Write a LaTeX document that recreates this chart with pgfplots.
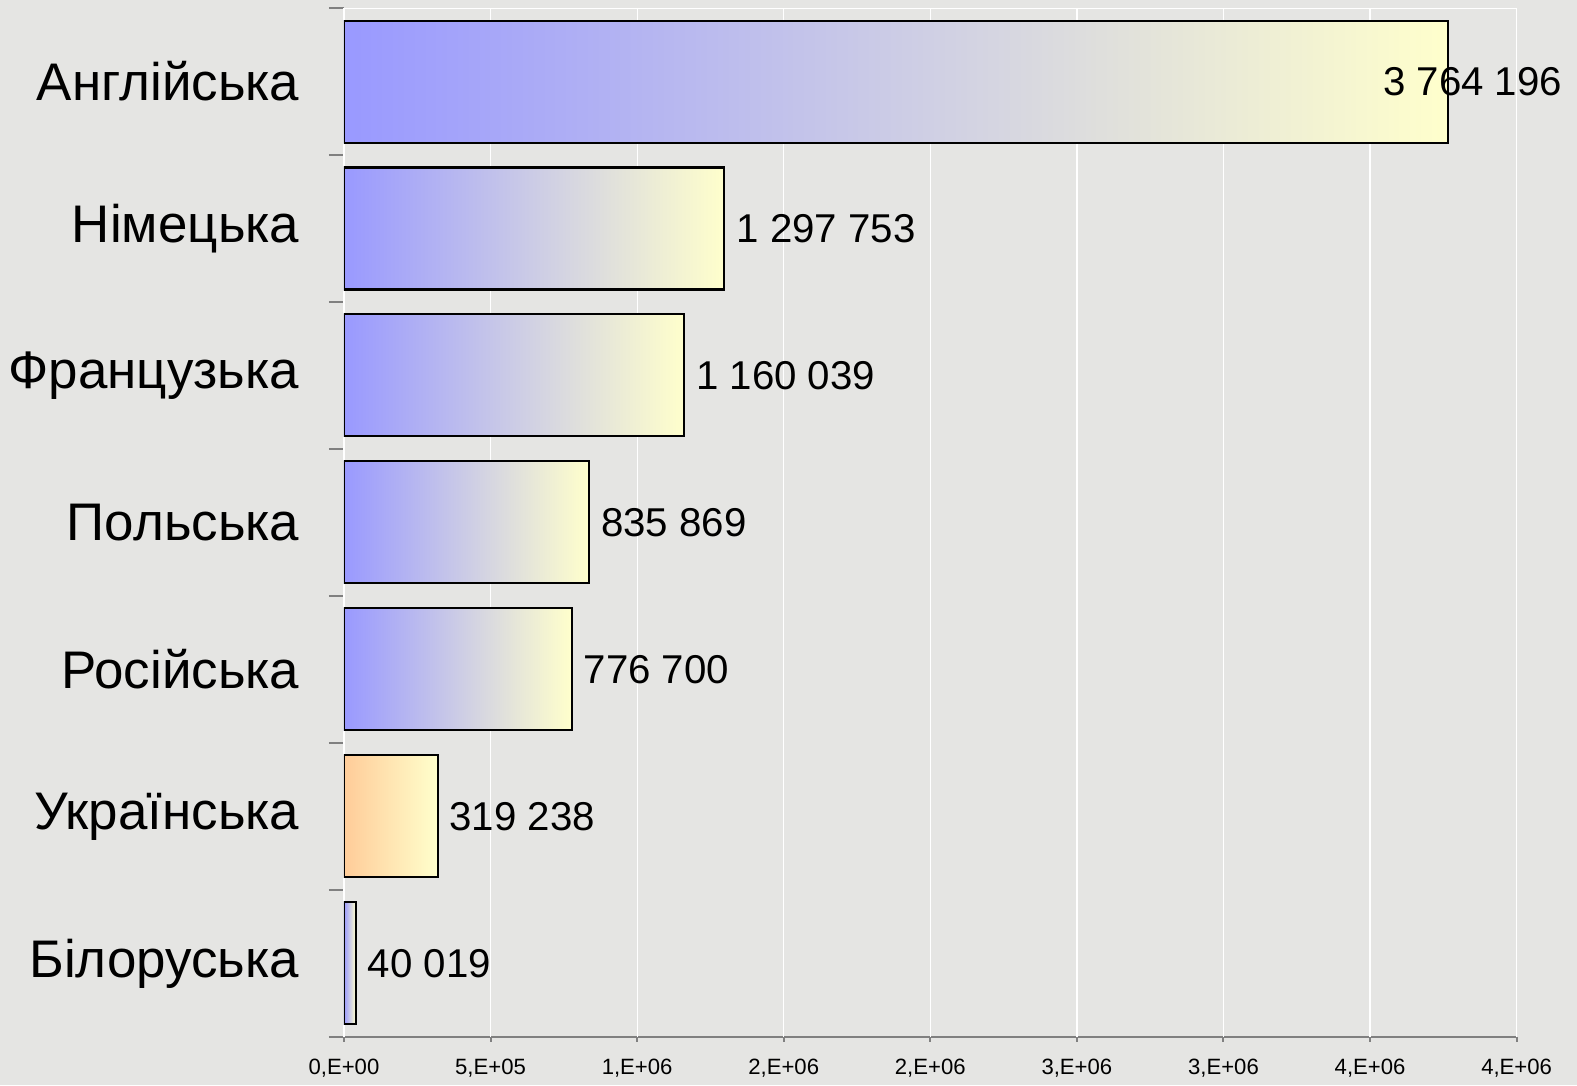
\documentclass[border=0pt]{standalone}
\usepackage{fontspec}
\setmainfont{Liberation Sans}
\usepackage{pgfplots}
\pgfplotsset{compat=1.18}
\definecolor{bgpaper}{HTML}{E5E5E3}
\definecolor{barblue}{HTML}{9999FF}
\definecolor{bargray}{HTML}{DDDDDD}
\definecolor{baryellow}{HTML}{FFFFCC}
\definecolor{barorange}{HTML}{FFCC99}
\definecolor{barpeach}{HTML}{FFE6B3}
\definecolor{axisgray}{HTML}{808080}

\pgfplotsset{
    bluebar/.style={bar shift=0pt, draw=black, line width=1pt,
        left color=barblue, middle color=bargray, right color=baryellow,
        nodes near coords style={xshift=5.5pt}},
}

\begin{document}
\begin{tikzpicture}
\fill[bgpaper] (-171pt,-24pt) rectangle (613pt,515.5pt);
\begin{axis}[
    scale only axis,
    width=583pt,
    height=511.5pt,
    xbar,
    bar width=0.83,
    xmin=0, xmax=4e6,
    ymin=-0.5, ymax=6.5,
    axis x line*=bottom,
    axis y line*=left,
    axis line style={axisgray, line width=1pt},
    tick align=outside,
    tick style={axisgray, line width=1pt},
    major tick length=7.5pt,
    scaled x ticks=false,
    xtick=\empty,
    extra x ticks={0,500000,1000000,1500000,2000000,2500000,3000000,3500000,4000000},
    extra x tick labels={{0,E+00},{5,E+05},{1,E+06},{2,E+06},{2,E+06},{3,E+06},{3,E+06},{4,E+06},{4,E+06}},
    extra x tick style={major tick length=2.5pt, grid=major,
        xticklabel style={font=\fontsize{11}{11}\selectfont, black, yshift=-5pt}},
    major grid style={white, line width=0.6pt},
    ytick={-0.5,0.5,1.5,2.5,3.5,4.5,5.5,6.5},
    yticklabels={},
    extra y ticks={0,1,2,3,4,5,6},
    extra y tick labels={Білоруська,Українська,Російська,Польська\hspace{6.5pt},Французька,Німецька,Англійська},
    extra y tick style={major tick length=0pt,
        yticklabel style={anchor=east, inner sep=0pt, xshift=-22pt,
            font=\fontsize{26.3}{26.3}\selectfont, black}},
    point meta=x,
    nodes near coords={\pgfmathprintnumber[fixed,precision=0,1000 sep={\ },assume math mode=true]{\pgfplotspointmeta}},
    nodes near coords align={horizontal},
    every node near coord/.append style={anchor=west, inner sep=0pt,
        font=\fontsize{20}{20}\selectfont, black},
]
% one plot per bar, so that each bar gets its own gradient
\addplot[bluebar, nodes near coords style={xshift=-38pt}] coordinates {(3764196,6)};
\addplot[bluebar] coordinates {(1297753,5)};
\addplot[bluebar] coordinates {(1160039,4)};
\addplot[bluebar] coordinates {(835869,3)};
\addplot[bluebar] coordinates {(776700,2)};
% ukrainian in orange
\addplot[bar shift=0pt, draw=black, line width=1pt,
    left color=barorange, middle color=barpeach, right color=baryellow,
    nodes near coords style={xshift=5.5pt}]
    coordinates {(319238,1)};
\addplot[bluebar] coordinates {(40019,0)};
\draw[white, line width=0.6pt] (rel axis cs:0,1) -- (rel axis cs:1,1);
\end{axis}
\end{tikzpicture}
\end{document}
